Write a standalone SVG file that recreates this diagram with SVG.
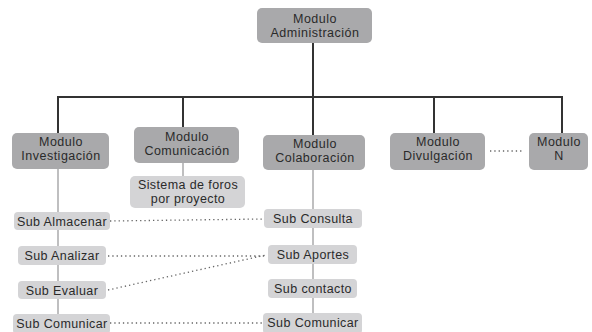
<svg xmlns="http://www.w3.org/2000/svg" width="592" height="332" viewBox="0 0 592 332">
<style>
text{font-family:"Liberation Sans",Arial,sans-serif;fill:#2a2a2a;text-anchor:middle}
.m rect{fill:#a9a9ab}
.m text{font-size:12.5px;letter-spacing:0.5px}
.s rect{fill:#d4d4d6}
.s text{font-size:12.5px;letter-spacing:0.4px}
.main{stroke:#333;stroke-width:2;fill:none}
.thin{stroke:#aaaaac;stroke-width:1.5;fill:none}
.dot{stroke:#666;stroke-width:1.3;stroke-dasharray:1.3 3;fill:none}
</style>
<rect width="592" height="332" fill="#fff"/>
<g id="connectors">
<path class="main" d="M313 43V97M58 97H562M58 96V133M183 96V127M313 96V135M434 96V133M562 96V135"/>
<path class="thin" d="M183 163V176M58 169V322M313 170V322"/>
<path class="dot" d="M110 221L264 219M108 256L266 256M108 290L266 255M110 323L263 323M490 151H522"/>
</g>
<g id="admin" class="m"><rect x="257" y="8" width="115" height="35" rx="5"/><text x="315" y="23">Modulo</text><text x="315" y="37">Administración</text></g>
<g id="investigacion" class="m"><rect x="12" y="133" width="97" height="36" rx="5"/><text x="61" y="146">Modulo</text><text x="61" y="160">Investigación</text></g>
<g id="comunicacion" class="m"><rect x="134" y="127" width="105" height="36" rx="5"/><text x="187" y="141">Modulo</text><text x="187" y="155">Comunicación</text></g>
<g id="colaboracion" class="m"><rect x="263" y="135" width="102" height="35" rx="5"/><text x="315" y="148">Modulo</text><text x="315" y="162">Colaboración</text></g>
<g id="divulgacion" class="m"><rect x="390" y="133" width="95" height="37" rx="5"/><text x="438" y="146">Modulo</text><text x="438" y="160">Divulgación</text></g>
<g id="moduloN" class="m"><rect x="529" y="133" width="59" height="37" rx="5"/><text x="559" y="146">Modulo</text><text x="559" y="160">N</text></g>
<g id="foros" class="s"><rect x="130" y="176" width="115" height="32" rx="5"/><text x="188" y="189">Sistema de foros</text><text x="188" y="203">por proyecto</text></g>
<g id="almacenar" class="s"><rect x="14" y="212" width="96" height="18" rx="4"/><text x="62" y="226">Sub Almacenar</text></g>
<g id="analizar" class="s"><rect x="18" y="246" width="88" height="19" rx="4"/><text x="62" y="260">Sub Analizar</text></g>
<g id="evaluar" class="s"><rect x="18" y="281" width="88" height="18" rx="4"/><text x="62" y="295">Sub Evaluar</text></g>
<g id="comunicar1" class="s"><rect x="13" y="314" width="97" height="20" rx="4"/><text x="62" y="328">Sub Comunicar</text></g>
<g id="consulta" class="s"><rect x="264" y="209" width="98" height="19" rx="4"/><text x="313" y="223">Sub Consulta</text></g>
<g id="aportes" class="s"><rect x="268" y="245" width="89" height="19" rx="4"/><text x="313" y="259">Sub Aportes</text></g>
<g id="contacto" class="s"><rect x="268" y="279" width="89" height="19" rx="4"/><text x="313" y="293">Sub contacto</text></g>
<g id="comunicar2" class="s"><rect x="263" y="313" width="99" height="21" rx="4"/><text x="313" y="327">Sub Comunicar</text></g>
</svg>
